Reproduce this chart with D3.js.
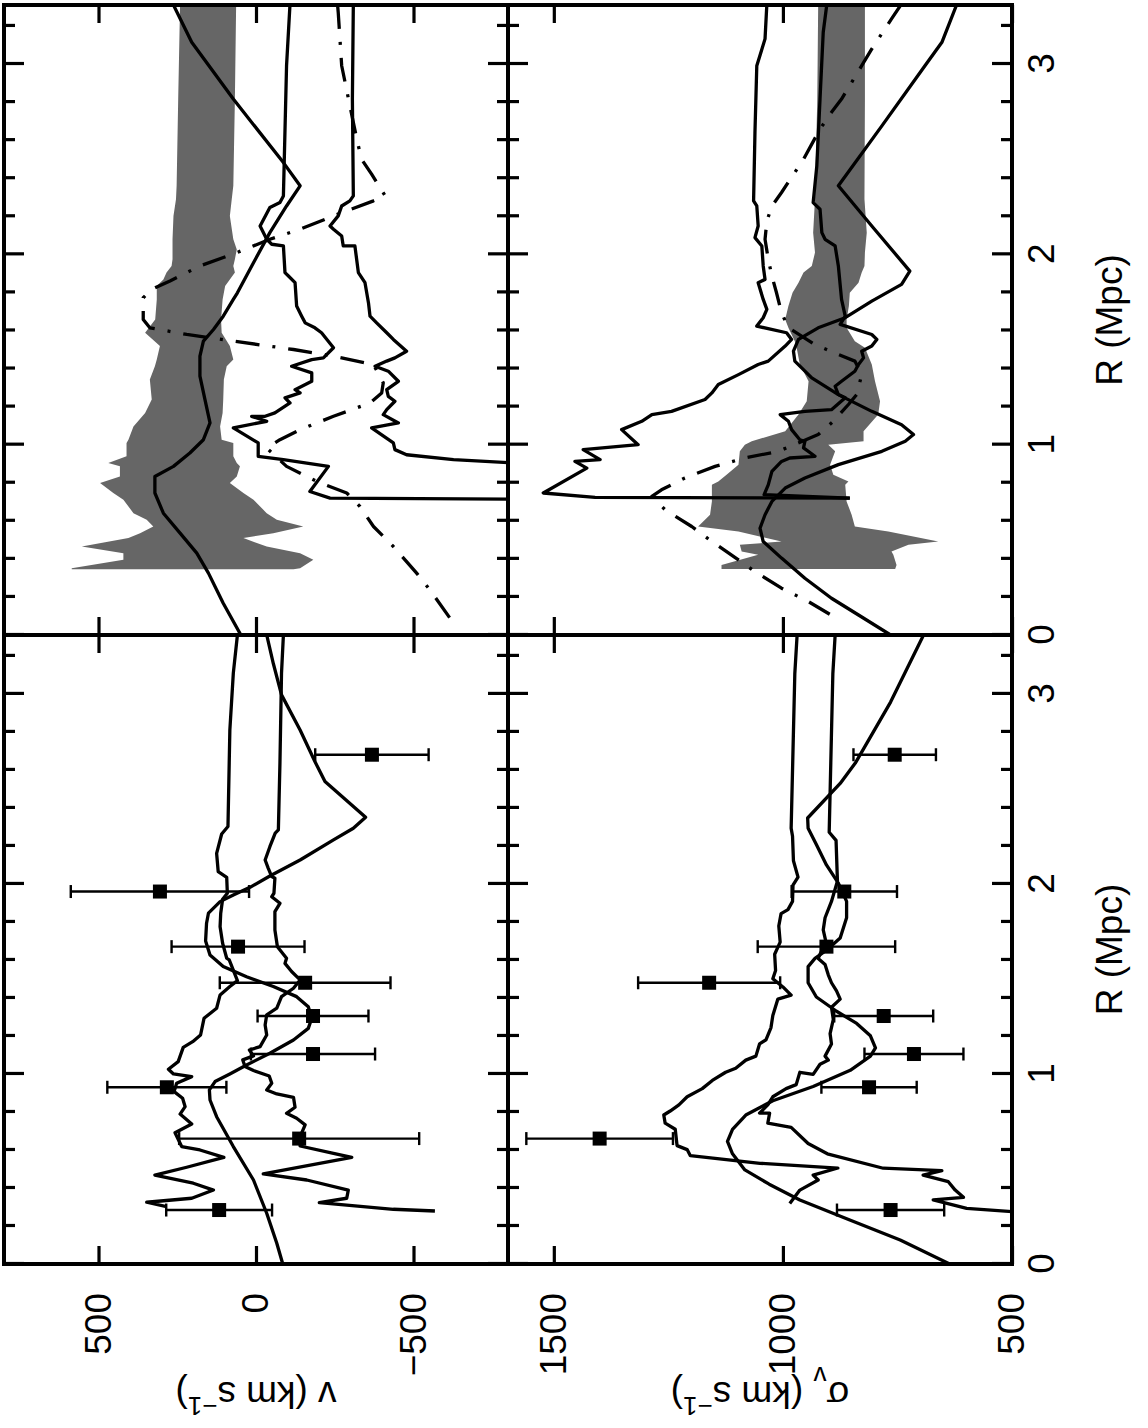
<!DOCTYPE html>
<html>
<head>
<meta charset="utf-8">
<script src="https://cdn.jsdelivr.net/npm/d3@7"></script>
<style>
  body { margin: 0; background: #fff; }
  svg { display: block; }
  text { font-family: "Liberation Sans", Arial, sans-serif; font-size: 37px; fill: #000; }
</style>
</head>
<body>
<div id="chart"></div>
<script>
// ---- data (R in Mpc, v and sigma in km/s) ----
const pointR = [0.284, 0.66, 0.93, 1.105, 1.305, 1.48, 1.67, 1.96, 2.68];
const pointV = [117, -137, 283, -181, -181, -156, 57, 305, -368];
const pointVErr = [168, 381, 189, 197, 176, 271, 211, 283, 180];
const pointSig = [765, 1400, 812, 714, 780, 1161, 905, 866, 756];
const pointSigErr = [117, 160, 104, 108, 108, 155, 150, 115, 90];

// left column, velocity
const leftVModel = [[0,-85],[0.109,-66],[0.267,-34],[0.442,8],[0.618,72],[0.775,125],[0.863,146],[0.916,148],[0.96,130],[1.0,83],[1.047,30],[1.109,-44],[1.179,-119],[1.24,-166],[1.293,-177],[1.354,-166],[1.407,-129],[1.46,-55],[1.512,30],[1.565,104],[1.626,146],[1.7,160],[1.793,157],[1.846,151],[1.907,114],[1.942,72],[1.982,19],[2.042,-44],[2.126,-140],[2.232,-246],[2.293,-309],[2.351,-348],[2.539,-219],[2.644,-187],[2.81,-140],[2.995,-81],[3.16,-55],[3.31,-34]];
const leftVJagA = [[3.31,59],[3.109,72],[2.81,83],[2.302,89],[2.263,109],[2.161,125],[2.065,120],[2.035,93],[1.951,91],[1.919,106],[1.846,112],[1.775,114],[1.688,106],[1.609,93],[1.6,85],[1.491,59],[1.46,83],[1.416,114],[1.346,125],[1.293,165],[1.205,176],[1.17,201],[1.14,231],[1.065,247],[1.025,278],[1.0,262],[0.986,204],[0.951,252],[0.907,260],[0.872,233],[0.828,225],[0.789,241],[0.737,204],[0.691,257],[0.618,236],[0.6,178],[0.561,102],[0.509,220],[0.468,321],[0.425,199],[0.389,135],[0.346,204],[0.325,347],[0.302,284]];
const leftVJagB = [[3.31,-87],[3.109,-81],[2.635,-76],[2.284,-71],[2.267,-61],[2.196,-44],[2.126,-29],[2.082,-39],[2.039,-50],[2.03,-60],[1.951,-57],[1.933,-50],[1.898,-76],[1.854,-60],[1.758,-60],[1.67,-68],[1.609,-97],[1.582,-92],[1.539,-113],[1.495,-140],[1.451,-119],[1.407,-81],[1.346,-66],[1.311,-34],[1.258,-29],[1.205,-34],[1.144,-13],[1.126,21],[1.095,8],[1.074,42],[1.039,35],[1.018,8],[0.989,-42],[0.951,-50],[0.916,-34],[0.895,-66],[0.877,-119],[0.825,-124],[0.793,-97],[0.767,-129],[0.732,-156],[0.67,-140],[0.621,-140],[0.582,-246],[0.561,-304],[0.474,-23],[0.442,-161],[0.389,-293],[0.346,-288],[0.323,-201],[0.288,-436],[0.279,-568]];

// left column, dispersion
const leftSigModel = [[0,636],[0.126,744],[0.232,854],[0.337,963],[0.42,1030],[0.495,1083],[0.58,1110],[0.645,1121],[0.709,1110],[0.784,1081],[0.859,1022],[0.934,934],[1.019,853],[1.094,809],[1.137,798],[1.201,809],[1.266,839],[1.33,883],[1.405,927],[1.48,945],[1.565,945],[1.608,930],[1.651,905],[1.715,875],[1.822,861],[1.908,861],[2.004,879],[2.1,905],[2.208,927],[2.293,945],[2.347,946],[2.529,875],[2.636,842],[2.957,765],[3.31,693]];
const leftSigJagA = [[3.31,969],[3.107,974],[2.293,982],[2.251,979],[2.122,977],[2.036,967],[1.994,978],[1.908,979],[1.865,989],[1.844,1004],[1.779,1009],[1.694,1006],[1.63,1018],[1.544,1016],[1.501,1022],[1.458,1000],[1.415,982],[1.394,1011],[1.308,1022],[1.244,1026],[1.18,1037],[1.158,1051],[1.094,1059],[1.073,1081],[1.03,1103],[1.009,1125],[0.966,1154],[0.923,1176],[0.88,1209],[0.837,1227],[0.805,1246],[0.784,1260],[0.741,1257],[0.709,1235],[0.623,1231],[0.602,1209],[0.57,1202],[0.53,1050],[0.505,880],[0.468,934],[0.442,923],[0.389,963],[0.319,985]];
const leftSigJagB = [[3.31,886],[3.107,891],[2.272,899],[2.229,884],[2.015,881],[1.908,894],[1.822,908],[1.758,912],[1.694,906],[1.63,919],[1.608,923],[1.576,908],[1.522,901],[1.48,894],[1.437,883],[1.394,875],[1.351,894],[1.287,890],[1.212,897],[1.158,894],[1.094,908],[1.073,901],[1.051,919],[0.998,934],[1.009,963],[0.944,971],[0.923,993],[0.88,1022],[0.837,1033],[0.794,1051],[0.794,1029],[0.741,1033],[0.719,982],[0.634,945],[0.58,903],[0.504,781],[0.491,653],[0.468,694],[0.433,639],[0.389,624],[0.351,606],[0.337,672],[0.293,599],[0.275,495]];

// right column, velocity: band rows are [R, lower, upper]
const rightVBand = [[3.316,63,241],[2.816,67,247],[2.36,72,252],[2.289,77,254],[2.202,83,262],[2.079,72,265],[2.026,61,265],[1.974,67,265],[1.939,72,268],[1.904,67,284],[1.868,83,294],[1.833,98,315],[1.763,106,315],[1.658,111,320],[1.588,109,352],[1.518,83,305],[1.447,72,315],[1.412,93,321],[1.342,102,337],[1.237,104,331],[1.167,106,352],[1.096,114,389],[1.026,109,405],[1.009,72,411],[0.939,72,411],[0.904,61,469],[0.886,51,432],[0.833,61,432],[0.798,83,495],[0.746,40,453],[0.711,8,421],[0.64,-34,389],[0.605,-66,347],[0.57,-150,326],[0.535,-55,368],[0.509,40,405],[0.465,-34,553],[0.43,-140,421],[0.395,-182,421],[0.351,-140,585],[0.346,-119,585]];
const rightVModel = [[0,48],[0.167,104],[0.325,151],[0.43,188],[0.535,241],[0.64,294],[0.746,321],[0.833,321],[0.886,262],[0.956,210],[1.026,167],[1.114,146],[1.237,162],[1.36,178],[1.465,178],[1.544,167],[1.605,135],[1.675,104],[1.763,72],[1.798,59],[1.956,8],[2.114,-44],[2.254,-97],[2.36,-140],[2.482,-87],[2.816,72],[3.114,204],[3.31,262]];
const rightVJagC = [[3.316,-108],[2.991,-97],[2.307,-87],[2.272,-76],[2.246,-44],[2.149,-13],[2.079,-34],[2.053,-50],[2.044,-87],[1.904,-92],[1.886,-103],[1.851,-124],[1.728,-129],[1.675,-145],[1.64,-156],[1.614,-187],[1.588,-208],[1.509,-246],[1.456,-214],[1.447,-177],[1.412,-113],[1.377,-177],[1.333,-177],[1.289,-124],[1.272,-140],[1.246,-92],[1.219,-108],[1.167,-60],[1.149,-29],[1.149,14],[1.123,-34],[1.088,72],[1.009,-7],[0.939,-7],[0.921,-87],[0.886,-230],[0.754,-171],[0.719,-235],[0.714,-820]];
const rightVJagD = [[3.316,-309],[2.816,-306],[2.307,-309],[2.281,-298],[2.254,-272],[2.202,-261],[2.149,-235],[2.132,-246],[2.096,-272],[2.044,-277],[2.044,-314],[1.904,-325],[1.851,-346],[1.746,-357],[1.675,-362],[1.64,-383],[1.588,-415],[1.553,-436],[1.491,-478],[1.456,-441],[1.439,-415],[1.412,-378],[1.386,-420],[1.333,-452],[1.289,-415],[1.254,-420],[1.228,-441],[1.184,-415],[1.158,-404],[1.114,-452],[1.088,-367],[1.009,-436],[0.974,-441],[0.947,-478],[0.921,-627],[0.904,-820]];
const rightVDash = [[3.31,-259],[3.272,-261],[2.991,-272],[2.781,-298],[2.605,-320],[2.5,-335],[2.421,-367],[2.307,-410],[2.281,-373],[2.202,-246],[2.132,-140],[2.079,-44],[2.009,61],[1.939,178],[1.86,273],[1.816,331],[1.772,358],[1.658,358],[1.614,337],[1.579,220],[1.544,72],[1.5,-119],[1.465,-246],[1.421,-373],[1.325,-404],[1.272,-399],[1.219,-362],[1.149,-246],[1.079,-140],[1.026,-76],[0.982,-34],[0.886,-97],[0.807,-193],[0.746,-288],[0.675,-330],[0.57,-373],[0.465,-436],[0.325,-510],[0.237,-552],[0.088,-616]];

// right column, dispersion
const rightSigBand = [[3.316,821,923],[2.816,821,925],[2.289,822,930],[2.114,817,934],[2.009,821,930],[1.939,822,937],[1.904,828,955],[1.851,835,966],[1.798,854,979],[1.728,856,988],[1.658,861,995],[1.614,861,988],[1.544,843,974],[1.509,821,970],[1.421,806,963],[1.333,799,944],[1.228,788,948],[1.158,792,966],[1.07,824,995],[1.018,824,1068],[1.0,901,1083],[0.965,886,1094],[0.895,897,1097],[0.842,890,1123],[0.807,857,1141],[0.789,864,1155],[0.702,861,1155],[0.632,850,1159],[0.57,843,1185],[0.544,770,1097],[0.491,661,1003],[0.474,726,1094],[0.439,763,1090],[0.421,759,1054],[0.368,752,1134],[0.347,755,1134]];
const rightSigModel = [[0,765],[0.105,835],[0.193,894],[0.298,952],[0.404,1003],[0.491,1043],[0.561,1050],[0.632,1039],[0.702,1024],[0.772,995],[0.825,952],[0.895,879],[0.965,784],[1.018,733],[1.053,715],[1.105,741],[1.175,806],[1.263,879],[1.351,937],[1.439,974],[1.491,977],[1.553,966],[1.614,923],[1.667,864],[1.754,806],[1.842,741],[1.912,723],[2.149,806],[2.36,879],[2.675,784],[2.991,690],[3.114,653],[3.31,621]];
const rightSigJagE = [[3.316,1035],[3.132,1039],[2.991,1057],[2.64,1061],[2.281,1064],[2.254,1057],[2.149,1054],[2.088,1061],[2.044,1046],[1.939,1043],[1.868,1039],[1.851,1054],[1.763,1043],[1.711,1035],[1.667,1043],[1.623,1057],[1.588,992],[1.553,981],[1.518,995],[1.439,1032],[1.421,1054],[1.368,1097],[1.316,1141],[1.272,1155],[1.237,1170],[1.175,1243],[1.158,1286],[1.123,1308],[1.079,1352],[1.0,1316],[0.974,1436],[0.921,1399],[0.912,1454],[0.877,1428],[0.746,1523],[0.723,1410],[0.719,854]];
const rightSigJagF = [[3.316,904],[3.167,912],[2.816,919],[2.465,926],[2.272,934],[2.237,919],[2.114,915],[2.079,908],[2.044,886],[1.939,879],[1.763,872],[1.675,864],[1.632,875],[1.579,806],[1.553,795],[1.518,806],[1.491,828],[1.456,824],[1.421,835],[1.386,843],[1.333,872],[1.307,886],[1.263,879],[1.246,864],[1.184,894],[1.175,952],[1.158,1006],[1.123,988],[1.079,981],[1.026,963],[1.018,952],[0.983,955],[0.939,930],[0.93,985],[0.912,1003],[0.86,1024],[0.789,1032],[0.737,1041],[0.719,854]];
const rightSigDash = [[3.316,741],[3.237,763],[3.079,806],[2.991,828],[2.816,872],[2.746,894],[2.658,919],[2.579,937],[2.5,955],[2.325,1003],[2.254,1024],[2.175,1035],[2.079,1039],[1.974,1032],[1.886,1024],[1.798,1014],[1.693,1003],[1.614,988],[1.526,930],[1.474,879],[1.439,843],[1.368,828],[1.263,839],[1.211,857],[1.123,890],[1.053,923],[0.965,1010],[0.93,1083],[0.886,1148],[0.825,1214],[0.763,1265],[0.728,1286],[0.658,1257],[0.57,1199],[0.491,1155],[0.395,1097],[0.333,1061],[0.246,1003],[0.175,944],[0.088,883]];

const rMajor = [0, 1, 2, 3];
const rMinor = d3.range(0, 3.31, 0.2).filter(r => Math.abs(r - Math.round(r)) > 0.01);
const vTicks = [-500, 0, 500];
const sigTicks = [500, 1000, 1500];

// ---- layout: the figure is drawn landscape, then turned a quarter to the left ----
const R_MAX = 3.31;
const colX = [[164, 793], [793, 1423]];
const rowY = [[4, 508], [508, 1012]];

const svg = d3.select("#chart").append("svg")
  .attr("width", 1148)
  .attr("height", 1428);
const defs = svg.append("defs");
const g = svg.append("g").attr("transform", "translate(0,1428) rotate(-90)");

function makePanel(col, row, domain) {
  const [x0, x1] = colX[col];
  const [y0, y1] = rowY[row];
  const x = d3.scaleLinear().domain([0, R_MAX]).range([x0, x1]);
  const y = d3.scaleLinear().domain(domain).range([y1, y0]);
  const id = `clip-${col}-${row}`;
  defs.append("clipPath").attr("id", id)
    .append("rect").attr("x", x0).attr("y", y0).attr("width", x1 - x0).attr("height", y1 - y0);
  const plot = g.append("g").attr("clip-path", `url(#${id})`);
  return { x, y, plot, x0, x1, y0, y1, col, row };
}

function drawFrame(pn, yTicks) {
  const { x, y, x0, x1, y0, y1 } = pn;
  const clean = a => { a.select(".domain").remove(); a.selectAll("line").attr("stroke-width", 3.2); a.attr("font-size", null).attr("font-family", null); };

  // R ticks, bottom and top, pointing inward
  g.append("g").attr("transform", `translate(0,${y1})`)
    .call(d3.axisBottom(x).tickValues(rMajor).tickSizeInner(-20).tickSizeOuter(0).tickPadding(16)
      .tickFormat(pn.row === 1 ? d3.format("d") : ""))
    .call(clean);
  g.append("g").attr("transform", `translate(0,${y1})`)
    .call(d3.axisBottom(x).tickValues(rMinor).tickSizeInner(-11).tickSizeOuter(0).tickFormat(""))
    .call(clean);
  g.append("g").attr("transform", `translate(0,${y0})`)
    .call(d3.axisTop(x).tickValues(rMajor).tickSizeInner(-20).tickSizeOuter(0).tickFormat(""))
    .call(clean);
  g.append("g").attr("transform", `translate(0,${y0})`)
    .call(d3.axisTop(x).tickValues(rMinor).tickSizeInner(-11).tickSizeOuter(0).tickFormat(""))
    .call(clean);

  // value ticks, left and right
  g.append("g").attr("transform", `translate(${x0},0)`)
    .call(d3.axisLeft(y).tickValues(yTicks).tickSizeInner(-18).tickSizeOuter(0).tickPadding(29)
      .tickFormat(pn.col === 0 ? d3.format("d") : ""))
    .call(clean);
  g.append("g").attr("transform", `translate(${x1},0)`)
    .call(d3.axisRight(y).tickValues(yTicks).tickSizeInner(-18).tickSizeOuter(0).tickFormat(""))
    .call(clean);

  g.append("rect")
    .attr("x", x0).attr("y", y0)
    .attr("width", x1 - x0).attr("height", y1 - y0)
    .attr("fill", "none").attr("stroke", "#000").attr("stroke-width", 4);
}

function drawLine(pn, data, dashed) {
  const line = d3.line().x(d => pn.x(d[0])).y(d => pn.y(d[1]));
  pn.plot.append("path")
    .datum(data)
    .attr("d", line)
    .attr("fill", "none")
    .attr("stroke", "#000")
    .attr("stroke-width", 3.3)
    .attr("stroke-linejoin", "round")
    .attr("stroke-dasharray", dashed ? "24,13,3,13" : null);
}

function drawBand(pn, data) {
  const area = d3.area().x(d => pn.x(d[0])).y0(d => pn.y(d[1])).y1(d => pn.y(d[2]));
  pn.plot.append("path").datum(data).attr("d", area).attr("fill", "#666666");
}

function drawPoints(pn, vals, errs) {
  const pts = pointR.map((r, i) => ({ r, v: vals[i], e: errs[i] }));
  const grp = g.append("g");
  grp.selectAll(".bar").data(pts).enter().append("line")
    .attr("x1", d => pn.x(d.r)).attr("x2", d => pn.x(d.r))
    .attr("y1", d => pn.y(d.v - d.e)).attr("y2", d => pn.y(d.v + d.e))
    .attr("stroke", "#000").attr("stroke-width", 2.4);
  [-1, 1].forEach(s => {
    grp.selectAll(".cap" + s).data(pts).enter().append("line")
      .attr("x1", d => pn.x(d.r) - 6.5).attr("x2", d => pn.x(d.r) + 6.5)
      .attr("y1", d => pn.y(d.v + s * d.e)).attr("y2", d => pn.y(d.v + s * d.e))
      .attr("stroke", "#000").attr("stroke-width", 2.4);
  });
  grp.selectAll("rect").data(pts).enter().append("rect")
    .attr("x", d => pn.x(d.r) - 7).attr("y", d => pn.y(d.v) - 7)
    .attr("width", 14).attr("height", 14).attr("fill", "#000");
}

// left column: measured profiles with error bars
const pLV = makePanel(0, 0, [-800, 800]);
drawLine(pLV, leftVJagA);
drawLine(pLV, leftVJagB);
drawLine(pLV, leftVModel);
drawPoints(pLV, pointV, pointVErr);
drawFrame(pLV, vTicks);

const pLS = makePanel(0, 1, [500, 1600]);
drawLine(pLS, leftSigJagA);
drawLine(pLS, leftSigJagB);
drawLine(pLS, leftSigModel);
drawPoints(pLS, pointSig, pointSigErr);
drawFrame(pLS, sigTicks);

// right column: band plus profiles
const pRV = makePanel(1, 0, [-800, 800]);
drawBand(pRV, rightVBand);
drawLine(pRV, rightVJagC);
drawLine(pRV, rightVJagD);
drawLine(pRV, rightVModel);
drawLine(pRV, rightVDash, true);
drawFrame(pRV, vTicks);

const pRS = makePanel(1, 1, [500, 1600]);
drawBand(pRS, rightSigBand);
drawLine(pRS, rightSigJagE);
drawLine(pRS, rightSigJagF);
drawLine(pRS, rightSigModel);
drawLine(pRS, rightSigDash, true);
drawFrame(pRS, sigTicks);

// axis titles
[478.5, 1108].forEach(cx => {
  g.append("text")
    .attr("x", cx).attr("y", 1122)
    .attr("text-anchor", "middle")
    .text("R (Mpc)");
});

const vTitle = g.append("text")
  .attr("transform", "translate(46,256) rotate(-90)")
  .attr("text-anchor", "middle");
vTitle.append("tspan").text("v  (km  s");
vTitle.append("tspan").attr("baseline-shift", "super").attr("font-size", "26px").text("−1");
vTitle.append("tspan").text(")");

const sTitle = g.append("text")
  .attr("transform", "translate(46,760) rotate(-90)")
  .attr("text-anchor", "middle");
sTitle.append("tspan").text("σ");
sTitle.append("tspan").attr("baseline-shift", "sub").attr("font-size", "26px").text("v");
sTitle.append("tspan").text("  (km  s");
sTitle.append("tspan").attr("baseline-shift", "super").attr("font-size", "26px").text("−1");
sTitle.append("tspan").text(")");
</script>
</body>
</html>
